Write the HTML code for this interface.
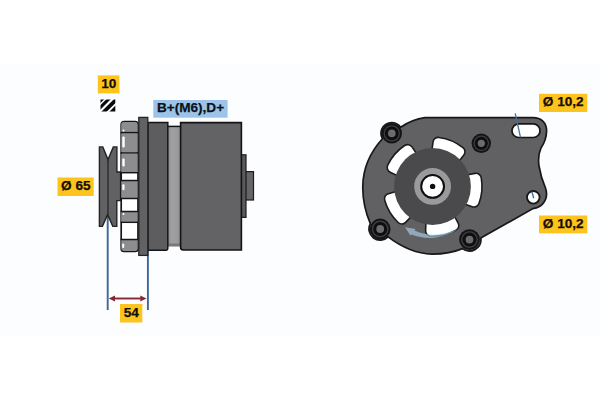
<!DOCTYPE html>
<html><head><meta charset="utf-8">
<style>
html,body{margin:0;padding:0;background:#fff;}
body{width:600px;height:400px;overflow:hidden;position:relative;font-family:"Liberation Sans",sans-serif;}
svg{position:absolute;left:0;top:0;}
.lbl{position:absolute;font-weight:bold;font-size:13.6px;color:#140e06;-webkit-text-stroke:0.25px #140e06;text-align:center;white-space:nowrap;}
.y{background:#fcc41c;}
.b{background:#9dc4e8;color:#0a1220;}
</style></head><body>
<svg width="600" height="400" viewBox="0 0 600 400">
<rect x="0" y="63.6" width="600" height="272.3" fill="#fcfdfe"/>

<!-- ===== LEFT: side view ===== -->
<!-- blue dimension lines -->
<line x1="107.7" y1="214" x2="107.7" y2="310" stroke="#3e6798" stroke-width="1.9"/>
<line x1="147.9" y1="250" x2="147.9" y2="310" stroke="#3e6798" stroke-width="1.9"/>
<!-- red arrow -->
<line x1="112" y1="298.5" x2="143" y2="298.5" stroke="#862833" stroke-width="1.9"/>
<path d="M108.8 298.5 L115 295.6 L115 301.4 Z" fill="#862833"/>
<path d="M146.5 298.5 L140.3 295.6 L140.3 301.4 Z" fill="#862833"/>

<!-- pulley -->
<path d="M99.4 146.9 L102.8 146.9 L108 159.6 L113.3 146.9 L116.9 146.9 L116.9 172 L120.6 172 L120.6 200.6 L116.8 200.6 L116.8 226.4 L112.8 226.4 L107.6 214.6 L102.4 226.4 L99.4 226.4 Z" fill="#616163" stroke="#242426" stroke-width="1.4" stroke-linejoin="miter"/>
<line x1="108" y1="159.6" x2="108" y2="214.6" stroke="#2c2c2e" stroke-width="1.4"/>
<!-- fan section -->
<rect x="121.2" y="121.6" width="16.8" height="129.8" rx="3" fill="#ffffff" stroke="#161618" stroke-width="1.7"/>
<path d="M121.2 124 Q121.2 121.9 123.6 121.9 L135 121.9 Q137.6 121.9 137.6 124 L137.6 132 L121.2 132 Z" fill="#8d8d8f"/>
<rect x="121.2" y="133.2" width="16.4" height="19" fill="#8d8d8f"/>
<rect x="121.2" y="153.4" width="16.4" height="19" fill="#8d8d8f"/>
<rect x="121.2" y="181" width="16.4" height="17" fill="#8d8d8f"/>
<rect x="121.2" y="212" width="16.4" height="9.8" fill="#8d8d8f"/>
<path d="M121.2 240 L137.6 240 L137.6 248.6 Q137.6 251 135 251 L123.6 251 Q121.2 251 121.2 248.6 Z" fill="#8d8d8f"/>
<g stroke="#161618" stroke-width="1.5">
<line x1="120.6" y1="132.6" x2="138" y2="132.6"/>
<line x1="120.6" y1="152.9" x2="138" y2="152.9"/>
<line x1="120.6" y1="172.7" x2="138" y2="172.7"/>
<line x1="120.6" y1="180.5" x2="138" y2="180.5"/>
<line x1="120.6" y1="198.5" x2="138" y2="198.5"/>
<line x1="120.6" y1="211.5" x2="138" y2="211.5"/>
<line x1="120.6" y1="222.3" x2="138" y2="222.3"/>
<line x1="120.6" y1="239.5" x2="138" y2="239.5"/>
</g>
<!-- slits -->
<rect x="122.3" y="136.6" width="2.4" height="10.8" rx="1" fill="#fff"/>
<rect x="122.3" y="158.6" width="2.4" height="7.8" rx="1" fill="#fff"/>
<rect x="122.3" y="184.2" width="2.2" height="6" rx="1" fill="#fff"/>
<rect x="122.2" y="243.6" width="2" height="4.4" rx="1" fill="#fff"/>
<circle cx="123.5" cy="130.6" r="1" fill="#fff"/>
<circle cx="123.5" cy="214" r="1" fill="#fff"/>

<!-- light gap between bodies -->
<defs><linearGradient id="gg" x1="0" x2="1" y1="0" y2="0"><stop offset="0" stop-color="#8a8a8c"/><stop offset="0.35" stop-color="#a0a0a2"/><stop offset="0.7" stop-color="#9c9c9e"/><stop offset="1" stop-color="#8c8c8e"/></linearGradient></defs>
<rect x="167" y="126.5" width="14" height="119.6" fill="url(#gg)"/>
<line x1="167" y1="126.4" x2="181" y2="126.4" stroke="#141416" stroke-width="1.5"/>
<rect x="167" y="243.5" width="14" height="3" fill="#7a7a7c"/>

<!-- body1 -->
<path d="M148 122.5 L167.8 122.5 L167.8 248.6 Q167.8 250.2 166.2 250.2 L148 250.2 Z" fill="#5d5d5f" stroke="#161618" stroke-width="1.5"/>
<!-- flange -->
<rect x="138.8" y="117.4" width="9" height="138" fill="#626264" stroke="#242426" stroke-width="1.3"/>

<!-- rear steps -->
<rect x="245.5" y="171.6" width="8" height="28.4" fill="#666668" stroke="#1c1c1e" stroke-width="1.2"/>
<rect x="241" y="154.8" width="5" height="62.6" fill="#5a5a5c" stroke="#1c1c1e" stroke-width="1.2"/>
<!-- body2 -->
<path d="M180.6 122.6 L241.4 122.6 L241.4 250 L183.4 250 Q180.6 250 180.6 247.2 Z" fill="#636365" stroke="#141416" stroke-width="1.6"/>

<!-- hatch icon -->
<g>
<clipPath id="hc"><rect x="100.5" y="99.6" width="14.8" height="11.9"/></clipPath>
<rect x="100.5" y="99.6" width="14.8" height="11.9" fill="#fff"/>
<g clip-path="url(#hc)" stroke="#0a0a0a">
<line x1="104.00" y1="96" x2="84.00" y2="116" stroke-width="4.95"/><line x1="111.80" y1="96" x2="91.80" y2="116" stroke-width="3.10"/><line x1="119.75" y1="96" x2="99.75" y2="116" stroke-width="3.80"/><line x1="128.60" y1="96" x2="108.60" y2="116" stroke-width="4.95"/>
</g>
</g>

<!-- ===== RIGHT: front view ===== -->
<path id="plate" d="M425 117.6 L533 117.6 C541 117.6 546.6 122.5 546.6 131 Q546.4 140 541 148 Q537.5 156 539 166 Q541 178 545.5 188 Q548.5 197 543 203.5 Q540 207.5 533 208.6 L480.8 238 A11.4 11.4 0 0 1 462.5 248.6 Q450 253.8 432 254.2 Q410 253.5 388.1 236.9 A11.2 11.2 0 0 1 370.3 223.7 Q362.4 205 362.8 186 Q363.2 160 382.45 138.8 A10.8 10.8 0 0 1 400.65 127.2 Q412 119.4 425 117.6 Z" fill="#616163" stroke="#18181a" stroke-width="1.7"/>

<!-- arc slots (white) -->
<g fill="#1c1c1e" stroke="#1c1c1e" stroke-width="12.2" stroke-linejoin="round">
<path d="M405.3 173.6 L392.5 167.4 A44.3 44.3 0 0 1 407.6 149.9 L415.6 161.7 Z"/>
<path d="M436.4 156.9 L438.3 142.7 A44.3 44.3 0 0 1 459.7 151.7 L450.9 163.0 Z"/>
<path d="M461.9 181.2 L476.0 178.6 A44.3 44.3 0 0 1 474.0 201.7 L460.6 196.9 Z"/>
<path d="M446.7 213.0 L453.5 225.6 A44.3 44.3 0 0 1 430.9 230.9 L431.4 216.6 Z"/>
<path d="M411.7 208.3 L401.8 218.7 A44.3 44.3 0 0 1 389.8 198.8 L403.6 194.9 Z"/>
</g>
<g fill="#fff" stroke="#fff" stroke-width="9.0" stroke-linejoin="round">
<path d="M405.3 173.6 L392.5 167.4 A44.3 44.3 0 0 1 407.6 149.9 L415.6 161.7 Z"/>
<path d="M436.4 156.9 L438.3 142.7 A44.3 44.3 0 0 1 459.7 151.7 L450.9 163.0 Z"/>
<path d="M461.9 181.2 L476.0 178.6 A44.3 44.3 0 0 1 474.0 201.7 L460.6 196.9 Z"/>
<path d="M446.7 213.0 L453.5 225.6 A44.3 44.3 0 0 1 430.9 230.9 L431.4 216.6 Z"/>
<path d="M411.7 208.3 L401.8 218.7 A44.3 44.3 0 0 1 389.8 198.8 L403.6 194.9 Z"/>
</g>

<!-- hub -->
<circle cx="432.5" cy="186.5" r="38.4" fill="#4a4a4c"/>
<circle cx="432.6" cy="186.4" r="18.4" fill="#9a9a9c"/>
<circle cx="432.6" cy="186.4" r="11.4" fill="#fff" stroke="#0e0e10" stroke-width="2"/>
<circle cx="432.6" cy="186.4" r="2.7" fill="#0e0e10"/>

<!-- blue rotation arrow -->
<g fill="#aed4f0" fill-opacity="0.62">
<path d="M458.5 229.2 Q446 237 432 237.9 Q421 238.3 411.5 234.6 L410.4 235.4 L405 227.2 L415.6 229 L414.4 230.6 Q423 234.6 433 234.6 Q446 234 458.5 229.2 Z"/>
</g>
<!-- bolts -->
<g id="bolts">
<g transform="translate(391.8 133.4)"><circle r="10.2" fill="#141416"/><circle r="8.2" fill="#3e3e40"/><circle r="6.9" fill="#0e0e10"/><circle r="3.8" fill="#6c6c6e"/></g>
<g transform="translate(481.3 143.3)"><circle r="9.7" fill="#141416"/><circle r="7.8" fill="#3e3e40"/><circle r="6.5" fill="#0e0e10"/><circle r="3.6" fill="#6c6c6e"/></g>
<g transform="translate(380.2 229.0)"><circle r="10.4" fill="#141416"/><circle r="8.4" fill="#3e3e40"/><circle r="7.0" fill="#0e0e10"/><circle r="3.9" fill="#6c6c6e"/></g>
<g transform="translate(469.5 239.6)"><circle r="10.4" fill="#141416"/><circle r="8.4" fill="#3e3e40"/><circle r="7.0" fill="#0e0e10"/><circle r="3.9" fill="#6c6c6e"/></g>
</g>

<!-- mounting holes -->
<rect x="512" y="123.9" width="28" height="13.6" rx="6.8" fill="#fff" stroke="#161618" stroke-width="1.7"/>
<circle cx="533.3" cy="197.3" r="6.3" fill="#fff" stroke="#161618" stroke-width="1.8"/>
<line x1="515.2" y1="113.4" x2="520.5" y2="137.4" stroke="#46709c" stroke-width="1.3"/>
<line x1="531.9" y1="191.6" x2="533.7" y2="198.2" stroke="#46709c" stroke-width="1.4"/>

<!-- labels -->
<g>
<rect x="97.8" y="75.4" width="21.6" height="18" fill="#fcc41c"/>
<rect x="153.3" y="100" width="74.3" height="17.7" fill="#9dc4e8"/>
<rect x="57.5" y="177.5" width="36.2" height="18.5" fill="#fcc41c"/>
<rect x="120" y="304" width="22.3" height="18.5" fill="#fcc41c"/>
<rect x="539" y="93.8" width="48.3" height="18.2" fill="#fcc41c"/>
<rect x="539" y="215.5" width="48.3" height="17.8" fill="#fcc41c"/>
<g font-family="Liberation Sans, sans-serif" font-weight="bold" font-size="13.6" text-anchor="middle" fill="#140e06" stroke="#140e06" stroke-width="0.25">
<text x="108.7" y="88">10</text>
<text x="190.5" y="112" fill="#0a1220" stroke="#0a1220">B+(M6),D+</text>
<text x="75.8" y="190">Ø 65</text>
<text x="131.3" y="316.5">54</text>
<text x="563.2" y="106">Ø 10,2</text>
<text x="563.2" y="227.7">Ø 10,2</text>
</g>
</g>
</svg>


</body></html>
